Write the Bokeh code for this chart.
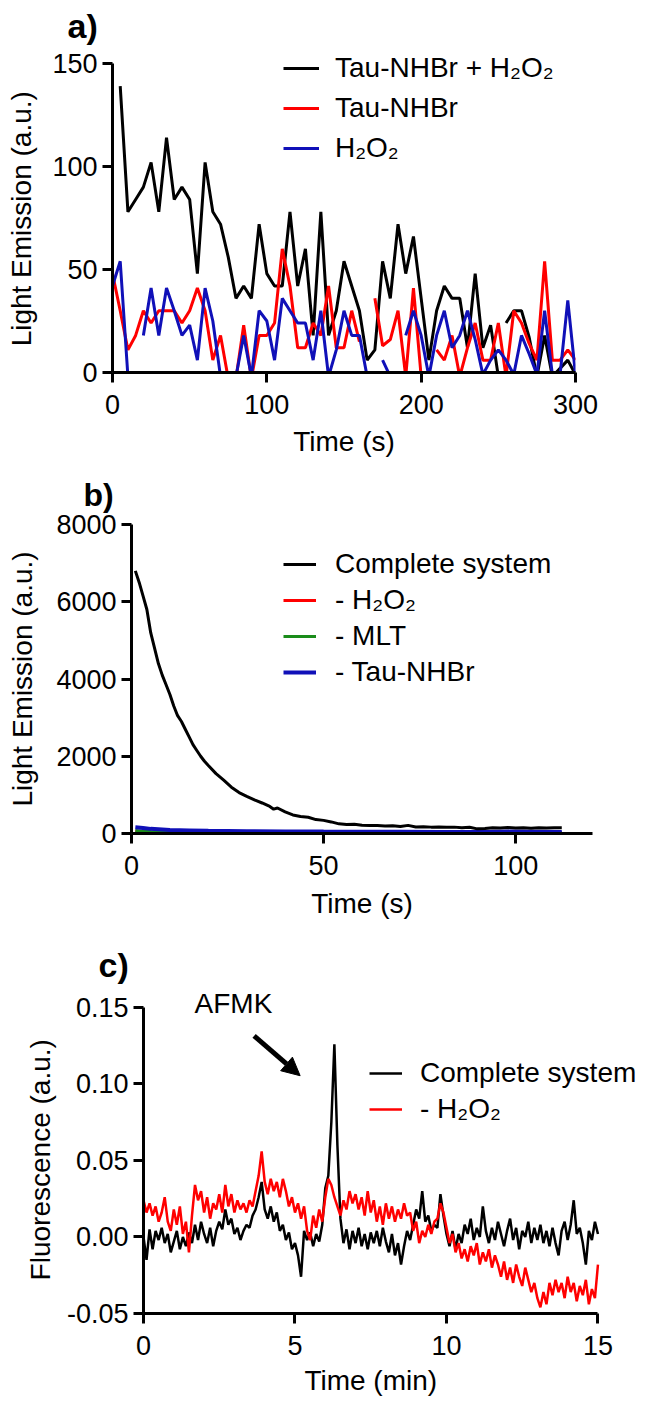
import math
from bokeh.plotting import figure
from bokeh.models import (Range1d, FixedTicker, NumeralTickFormatter, Legend, LegendItem,
                          Label, Arrow, NormalHead)
from bokeh.embed import file_html
from bokeh.resources import INLINE

NaN = float("nan")
FONT = "Liberation Sans"
NB = "\u00a0"

# ---------------- panel a data ----------------
time_a = [0, 5, 10, 15, 20, 25, 30, 35, 40, 45, 50, 55, 60, 65, 70, 75, 80, 85, 90, 95,
          100, 105, 110, 115, 120, 125, 130, 135, 140, 145, 150, 155, 160, 165, 170, 175,
          180, 185, 190, 195, 200, 205, 210, 215, 220, 225, 230, 235, 240, 245, 250, 255,
          260, 265, 270, 275, 280, 285, 290, 295, 300]
time_a_black = time_a[:51] + [252.5] + time_a[51:]
tau_h2o2_a = [NaN, 139, 78, 84, 90, 102, 78, 114, 84, 90, 84, 48, 102, 78, 72, 56, 36, 42, 36, 72,
              48, 42, 42, 78, 42, 60, 18, 78, 18, 30, 54, 42, 30, 6, 11, 54,
              36, 72, 48, 66, 36, 6, 30, 42, 36, 36, 12, 48, 12, 23, -2, NaN, 24,
              30, 30, 17, -2, 18, -2, 2, 6, -1]
tau_a = [48, 30, 11, 18, 30, 24, 30, 30, 30, 24, 30, 41, 30, 6, 18, -3, -3, 23, -3, 18,
         18, 24, 60, 42, 12, 12, 24, 18, 42, 12, 12, 30, 15, NaN, 36, 13,
         16, 30, -2, 41, -2, NaN, 11, 6, 18, -2, 12, 24, 6, 6, 24, -2,
         30, 24, 14, 6, 54, 6, 6, 11, 6]
h2o2_a = [42, 54, -2, NaN, 18, 41, 18, 41, 30, 18, 23, 6, 41, 25, -2, NaN, -2, 18, -2, 30,
          25, 6, 36, 30, 24, 24, 6, 30, -2, 11, 30, 18, 18, -2, NaN, 6,
          -2, NaN, 18, 30, 18, -2, 18, 30, 12, 18, 30, 16, -1, 6, 11, 6,
          -1, 18, 9, -1, 30, -1, -1, 35, -1]

# ---------------- panel b data ----------------
time_b = [1, 2, 3, 4, 5, 6, 7, 8, 9, 10, 11, 12, 13, 14, 15, 16, 17, 18, 19, 20,
          22, 24, 26, 28, 30, 32, 34, 36, 37, 38, 40, 42, 44, 46, 48, 50, 52, 54, 56, 58,
          60, 62, 64, 66, 68, 70, 72, 74, 76, 78, 80, 82, 84, 86, 88, 90, 92, 94, 96, 98,
          100, 102, 104, 106, 108, 110, 112]
complete_b = [6800, 6500, 6150, 5800, 5200, 4800, 4400, 4100, 3850, 3600, 3300, 3050, 2900, 2700,
              2500, 2300, 2150, 2000, 1870, 1760,
              1550, 1380, 1200, 1060, 960, 870, 790, 700, 630, 660, 560, 480, 440, 420, 360, 340,
              300, 250, 230, 240,
              215, 210, 205, 195, 200, 180, 210, 170, 175, 165, 170, 160, 165, 150, 160, 120, 130,
              150, 140, 155,
              140, 150, 135, 150, 140, 150, 150]
time_b_ctrl = [1, 3, 5, 10, 15, 20, 30, 40, 50, 60, 70, 80, 90, 100, 112]
minus_h2o2_b = [60, 45, 40, 30, 28, 25, 22, 20, 22, 25, 20, 20, 22, 30, 25]
minus_mlt_b = [80, 60, 50, 40, 38, 35, 30, 28, 26, 25, 22, 22, 20, 22, 20]
minus_tau_b = [160, 140, 120, 90, 80, 70, 60, 55, 50, 48, 45, 42, 40, 55, 40]

# ---------------- panel c data ----------------
time_c = [round(i * 0.1, 1) for i in range(151)]
complete_c = [
    0.000, -0.015, 0.005, -0.008, 0.004, -0.002, 0.006, -0.004, 0.002, -0.010,
    -0.003, 0.004, -0.008, 0.000, -0.006, 0.003, -0.004, 0.008, -0.002, 0.010,
    0.002, -0.004, 0.006, -0.006, 0.004, 0.010, 0.005, 0.018, 0.008, 0.012,
    0.002, 0.006, -0.002, 0.004, 0.008, 0.006, 0.014, 0.018, 0.026, 0.036,
    0.018, 0.012, 0.020, 0.010, 0.016, 0.004, 0.008, -0.002, 0.003, -0.008,
    -0.004, -0.012, -0.026, 0.004, -0.002, 0.003, -0.006, 0.002, -0.003, 0.008,
    0.032, 0.040, 0.075, 0.126, 0.060, 0.012, -0.004, 0.005, -0.008, 0.004,
    -0.004, 0.006, -0.006, 0.002, -0.008, 0.003, -0.004, 0.004, -0.006, 0.006,
    -0.003, -0.010, 0.002, -0.012, -0.004, -0.018, -0.006, 0.004, -0.002, 0.008,
    0.018, 0.012, 0.030, 0.010, 0.014, 0.004, 0.008, 0.006, 0.028, 0.014,
    0.002, -0.006, 0.004, -0.008, 0.002, -0.004, 0.008, 0.002, 0.012, -0.002,
    0.006, 0.000, 0.020, 0.004, -0.004, 0.006, -0.002, 0.010, 0.002, -0.006,
    0.004, 0.012, -0.002, 0.006, -0.008, 0.004, 0.000, 0.010, -0.004, 0.006,
    -0.002, 0.008, -0.004, 0.004, -0.006, 0.006, -0.004, -0.012, 0.004, 0.010,
    -0.002, 0.008, 0.024, 0.002, 0.006, -0.004, -0.018, 0.004, -0.002, 0.010,
    0.002]
minus_h2o2_c = [
    0.024, 0.016, 0.022, 0.014, 0.020, 0.010, 0.016, 0.026, 0.010, 0.004,
    0.018, 0.008, 0.020, 0.002, 0.010, -0.010, 0.014, 0.034, 0.024, 0.030,
    0.016, 0.026, 0.012, 0.022, 0.018, 0.028, 0.016, 0.034, 0.020, 0.028,
    0.016, 0.024, 0.018, 0.022, 0.016, 0.024, 0.020, 0.030, 0.040, 0.056,
    0.036, 0.028, 0.038, 0.030, 0.036, 0.026, 0.038, 0.030, 0.020, 0.026,
    0.016, 0.022, 0.012, 0.020, 0.004, -0.002, 0.014, 0.006, 0.018, 0.010,
    0.026, 0.038, 0.034, 0.026, 0.020, 0.014, 0.024, 0.018, 0.030, 0.022,
    0.028, 0.018, 0.026, 0.014, 0.030, 0.016, 0.024, 0.010, 0.020, 0.008,
    0.022, 0.012, 0.020, 0.010, 0.018, 0.012, 0.022, 0.014, 0.016, 0.004,
    0.010, -0.004, 0.004, 0.000, 0.008, 0.002, 0.010, 0.012, 0.022, 0.016,
    0.006, -0.004, 0.002, -0.010, -0.004, -0.014, -0.008, -0.016, -0.006, -0.012,
    -0.004, -0.018, -0.010, -0.016, -0.008, -0.020, -0.012, -0.018, -0.026, -0.016,
    -0.028, -0.020, -0.030, -0.018, -0.026, -0.032, -0.020, -0.028, -0.036, -0.030,
    -0.040, -0.046, -0.036, -0.044, -0.030, -0.038, -0.028, -0.036, -0.030, -0.040,
    -0.026, -0.036, -0.030, -0.042, -0.032, -0.038, -0.028, -0.044, -0.034, -0.040,
    -0.018]

ticks_a_x = [0, 100, 200, 300]
ticks_a_y = [0, 50, 100, 150]
ticks_b_x = [0, 50, 100]
ticks_b_y = [0, 2000, 4000, 6000, 8000]
ticks_c_x = [0, 5, 10, 15]
ticks_c_y = [-0.05, 0.0, 0.05, 0.10, 0.15]

BLACK = "#000000"
RED = "#ff0000"
BLUE = "#1010b8"
GREEN = "#1a8c1a"


def make_fig(height, xr, yr, xb, yb, mbl, mbr, mbt, mbb, xlabel, ylabel,
             ylab_standoff, xlab_standoff):
    p = figure(width=655, height=height, x_range=Range1d(*xr), y_range=Range1d(*yr),
               output_backend="svg", toolbar_location=None,
               min_border_left=mbl, min_border_right=mbr,
               min_border_top=mbt, min_border_bottom=mbb)
    p.outline_line_color = None
    p.grid.visible = False
    p.xaxis.axis_label = xlabel
    p.yaxis.axis_label = ylabel
    p.xaxis.bounds = xb
    p.yaxis.bounds = yb
    for ax in (p.xaxis[0], p.yaxis[0]):
        ax.axis_line_width = 3
        ax.major_tick_line_width = 3
        ax.major_tick_out = 10
        ax.major_tick_in = 0
        ax.minor_tick_line_color = None
        ax.major_label_text_font = FONT
        ax.major_label_text_font_size = "27px"
        ax.major_label_text_color = "black"
        ax.axis_label_text_font = FONT
        ax.axis_label_text_font_size = "28px"
        ax.axis_label_text_font_style = "normal"
        ax.axis_label_text_color = "black"
    p.yaxis.major_label_standoff = 5
    p.yaxis.axis_label_standoff = ylab_standoff
    p.xaxis.major_label_standoff = 12
    p.xaxis.axis_label_standoff = xlab_standoff
    return p


def add_legend(p, items, loc, spacing, glyph_width=35, standoff=17):
    leg = Legend(items=[LegendItem(label=l, renderers=[r]) for l, r in items],
                 location=loc, orientation="vertical",
                 label_text_font=FONT, label_text_font_size="28px",
                 label_text_color="black",
                 glyph_width=glyph_width, glyph_height=28, label_height=28,
                 label_standoff=standoff, spacing=spacing, padding=0, margin=0,
                 border_line_color=None, background_fill_alpha=0)
    p.add_layout(leg)


def panel_label(p, text, offset, standoff, size="34px"):
    p.title.text = text
    p.title.text_font = FONT
    p.title.text_font_size = size
    p.title.text_font_style = "bold"
    p.title.text_color = "black"
    p.title.align = "left"
    p.title.offset = offset
    p.title.standoff = standoff


# ---------------- panel a ----------------
pa = make_fig(462, (0, 300), (0, 156.8), (0, 300), (0, 150), 112, 80, 48, 90,
              "Time (s)", "Light Emission (a.u.)" + NB * 2, 12, 9)
pa.xaxis.ticker = FixedTicker(ticks=ticks_a_x)
pa.yaxis.ticker = FixedTicker(ticks=ticks_a_y)
ra_b = pa.line(time_a_black, tau_h2o2_a, line_color=BLACK, line_width=3)
ra_r = pa.line(time_a, tau_a, line_color=RED, line_width=3)
ra_u = pa.line(time_a, h2o2_a, line_color=BLUE, line_width=3)
add_legend(pa, [("Tau-NHBr + H₂O₂", ra_b), ("Tau-NHBr", ra_r), ("H₂O₂", ra_u)],
           (171, 208), 8, glyph_width=36, standoff=16)
panel_label(pa, "a)", -45, 9)

# ---------------- panel b ----------------
pb = make_fig(474, (0, 120), (0, 8000), (0, 120), (0, 8000), 131, 63, 61, 103,
              "Time (s)", "Light Emission (a.u.)", 15, 10)
pb.xaxis.ticker = FixedTicker(ticks=ticks_b_x)
pb.yaxis.ticker = FixedTicker(ticks=ticks_b_y)
rb_r = pb.line(time_b_ctrl, minus_h2o2_b, line_color=RED, line_width=3)
rb_g = pb.line(time_b_ctrl, minus_mlt_b, line_color=GREEN, line_width=3)
rb_u = pb.line(time_b_ctrl, minus_tau_b, line_color=BLUE, line_width=4)
rb_k = pb.line(time_b, complete_b, line_color=BLACK, line_width=3)
add_legend(pb, [("Complete system", rb_k), ("- H₂O₂", rb_r), ("- MLT", rb_g),
                ("- Tau-NHBr", rb_u)], (152, 145), 4, glyph_width=33, standoff=19)
panel_label(pb, "b)", -48, 24, size="32px")

# ---------------- panel c ----------------
pc = make_fig(466, (0, 16.8), (-0.05, 0.1611), (0, 15), (-0.05, 0.15), 143, 3, 54, 89,
              "Time (min)" + NB * 7, "Fluorescence (a.u.)" + NB * 2, 8, 7)
pc.xaxis.ticker = FixedTicker(ticks=ticks_c_x)
pc.yaxis.ticker = FixedTicker(ticks=ticks_c_y)
pc.yaxis.formatter = NumeralTickFormatter(format="0.00")
rc_k = pc.line(time_c, complete_c, line_color=BLACK, line_width=2.5)
rc_r = pc.line(time_c, minus_h2o2_c, line_color=RED, line_width=2.5)
add_legend(pc, [("Complete system", rc_k), ("- H₂O₂", rc_r)], (226, 188), 4,
           glyph_width=33, standoff=18)
pc.add_layout(Label(x=2.97, y=0.1524, text="AFMK", text_font=FONT, text_font_size="28px",
                    text_color="black", text_align="center", text_baseline="middle"))
pc.add_layout(Arrow(end=NormalHead(size=18, fill_color="black", line_color="black"),
                    x_start=3.65, y_start=0.1315, x_end=5.17, y_end=0.1054,
                    line_width=5, line_color="black"))
panel_label(pc, "c)", -45, 14)

open("out.html", "w").write(file_html([pa, pb, pc], INLINE))
